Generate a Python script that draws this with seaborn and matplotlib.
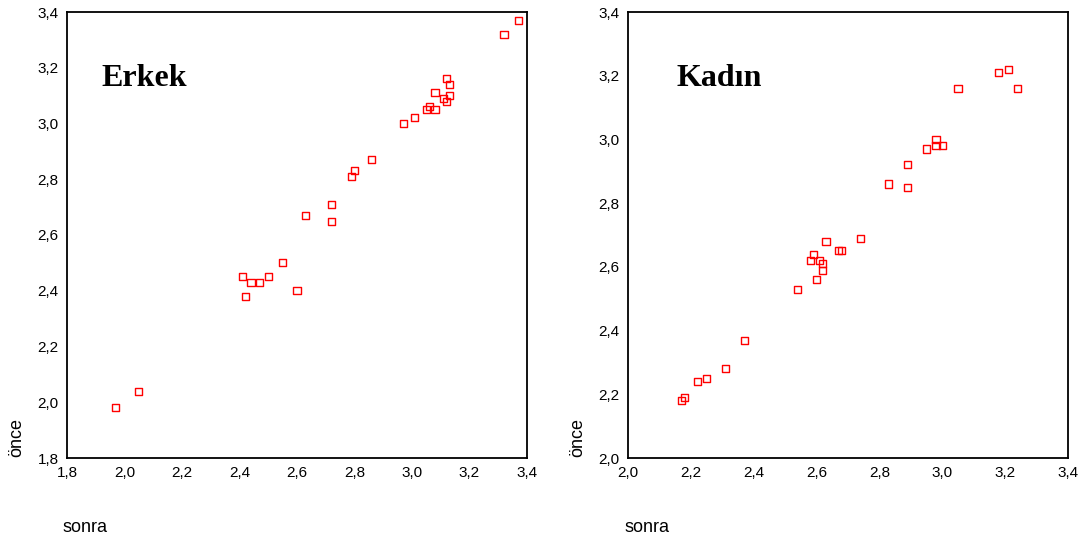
import matplotlib
matplotlib.use("Agg")
import matplotlib.pyplot as plt
import seaborn as sns
import pandas as pd
from matplotlib.ticker import FuncFormatter

# Erkek (male) data
erkek_sonra = [3.37, 3.32, 3.12, 3.13, 3.08, 3.13, 3.11, 3.12, 3.06, 3.05, 3.08, 3.01, 2.97,
               2.86, 2.80, 2.79, 2.72, 2.63, 2.72, 2.55, 2.41, 2.50, 2.44, 2.47, 2.42, 2.60,
               2.05, 1.97]
erkek_once = [3.37, 3.32, 3.16, 3.14, 3.11, 3.10, 3.09, 3.08, 3.06, 3.05, 3.05, 3.02, 3.00,
              2.87, 2.83, 2.81, 2.71, 2.67, 2.65, 2.50, 2.45, 2.45, 2.43, 2.43, 2.38, 2.40,
              2.04, 1.98]

# Kadın (female) data
kadin_sonra = [3.05, 3.18, 3.21, 3.24, 2.98, 2.95, 2.98, 3.00, 2.89, 2.83, 2.89,
               2.74, 2.63, 2.67, 2.68, 2.59, 2.58, 2.61, 2.62, 2.62, 2.60, 2.54,
               2.37, 2.31, 2.25, 2.22, 2.18, 2.17]
kadin_once = [3.16, 3.21, 3.22, 3.16, 3.00, 2.97, 2.98, 2.98, 2.92, 2.86, 2.85,
              2.69, 2.68, 2.65, 2.65, 2.64, 2.62, 2.62, 2.61, 2.59, 2.56, 2.53,
              2.37, 2.28, 2.25, 2.24, 2.19, 2.18]

erkek_ticks = [1.8, 2.0, 2.2, 2.4, 2.6, 2.8, 3.0, 3.2, 3.4]
kadin_ticks = [2.0, 2.2, 2.4, 2.6, 2.8, 3.0, 3.2, 3.4]

sns.set_style("white")
plt.rcParams['font.family'] = ['Liberation Sans Narrow', 'Liberation Sans', 'DejaVu Sans']
plt.rcParams['text.color'] = 'black'
plt.rcParams['axes.labelcolor'] = 'black'

fig = plt.figure(figsize=(10.82, 5.38), dpi=100)
ax1 = fig.add_axes([67/1082, 80/538, 460/1082, 446/538])
ax2 = fig.add_axes([628/1082, 80/538, 440/1082, 446/538])

comma = FuncFormatter(lambda v, p: f"{v:.1f}".replace(".", ","))

def draw(ax, xs, ys, ticks, title, title_x, lab_x, ylab_x):
    df = pd.DataFrame({"sonra": xs, "önce": ys})
    sns.scatterplot(data=df, x="sonra", y="önce", ax=ax, marker="s", s=26,
                    facecolor="none", edgecolor="red", linewidth=1.0)
    ax.set_xlim(ticks[0], ticks[-1])
    ax.set_ylim(ticks[0], ticks[-1])
    ax.set_xticks(ticks)
    ax.set_yticks(ticks)
    ax.xaxis.set_major_formatter(comma)
    ax.yaxis.set_major_formatter(comma)
    ax.tick_params(direction="out", length=3, width=2, colors="black",
                   labelsize=11, pad=3)
    for sp in ax.spines.values():
        sp.set_visible(True)
        sp.set_color("black")
        sp.set_linewidth(1.3)
    ax.set_xlabel("sonra", fontsize=13, va="center", ha="center")
    ax.set_ylabel("önce", fontsize=13, va="center", ha="center")
    ax.xaxis.set_label_coords(lab_x, -0.155)
    ax.yaxis.set_label_coords(ylab_x, 0.045)
    ax.text(title_x, 0.85, title, transform=ax.transAxes, fontsize=23,
            fontweight="bold", family="Liberation Serif", va="center", ha="left",
            color="black")

draw(ax1, erkek_sonra, erkek_once, erkek_ticks, "Erkek", 0.074, 0.039, -0.109)
draw(ax2, kadin_sonra, kadin_once, kadin_ticks, "Kadın", 0.111, 0.043, -0.114)

fig.savefig("out.png", dpi=100)
